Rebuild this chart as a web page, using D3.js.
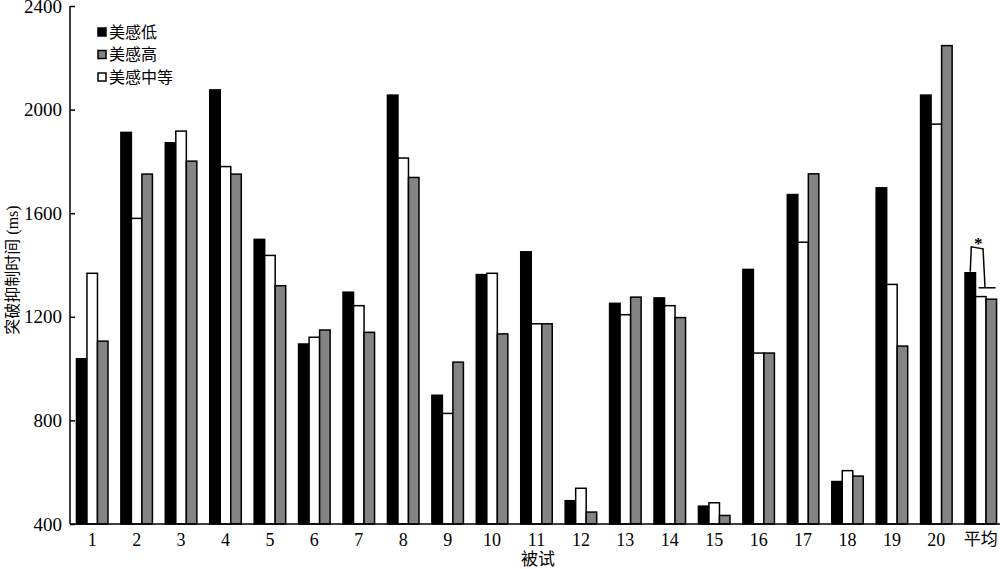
<!DOCTYPE html>
<meta charset="utf-8">
<style>
body { margin: 0; background: #fff; }
.axis text { font: 18px "Liberation Serif", serif; fill: #000; }
.axis path, .axis line { stroke: #000; stroke-width: 1.5; fill: none; }
.cjk { font-family: "Noto Sans CJK SC", sans-serif; }
</style>
<body>
<script src="https://d3js.org/d3.v7.min.js"></script>
<script>

// categories (被试) and series
var subjects = ["1","2","3","4","5","6","7","8","9","10","11","12","13","14","15","16","17","18","19","20","平均"];
var seriesNames = ["美感低", "美感中等", "美感高"];

var lowValues  = [1038, 1912, 1872, 2076, 1499, 1095, 1295, 2056,  897, 1363, 1451, 490, 1252, 1273, 469, 1383, 1672, 564, 1698, 2056, 1370];
var midValues  = [1368, 1580, 1917, 1780, 1437, 1121, 1243, 1813,  827, 1368, 1173, 538, 1208, 1243, 482, 1060, 1488, 606, 1325, 1944, 1278];
var highValues = [1106, 1751, 1801, 1751, 1320, 1149, 1140, 1738, 1025, 1134, 1173, 446, 1276, 1197, 433, 1060, 1752, 585, 1087, 2247, 1268];

var yTicks = [400, 800, 1200, 1600, 2000, 2400];
var legendOrder = ["美感低", "美感高", "美感中等"];
var sigTop = 1470, sigRight = 1312;

var colors = { "美感低": "#000", "美感中等": "#fff", "美感高": "#858385" };

var width = 1000, height = 569;
var svg = d3.select("body").append("svg")
    .attr("width", width)
    .attr("height", height);

var x = d3.scaleBand()
    .domain(subjects)
    .range([70, 1003])
    .paddingInner(0.29)
    .paddingOuter(0.145);

var xs = d3.scaleBand()
    .domain(seriesNames)
    .range([0, x.bandwidth()]);

var y = d3.scaleLinear()
    .domain([400, 2400])
    .range([524, 6]);

var data = subjects.map(function(s, i) {
  return { name: s, values: [
    { key: "美感低", v: lowValues[i] },
    { key: "美感中等", v: midValues[i] },
    { key: "美感高", v: highValues[i] }
  ]};
});

// bars
var groups = svg.selectAll(".grp")
    .data(data)
  .enter().append("g")
    .attr("class", "grp")
    .attr("transform", function(d) { return "translate(" + x(d.name) + ",0)"; });

groups.selectAll("rect")
    .data(function(d) { return d.values; })
  .enter().append("rect")
    .attr("x", function(d) { return xs(d.key); })
    .attr("y", function(d) { return y(d.v); })
    .attr("width", xs.bandwidth())
    .attr("height", function(d) { return y(400) - y(d.v); })
    .attr("fill", function(d) { return colors[d.key]; })
    .attr("stroke", "#000")
    .attr("stroke-width", 1.5);

// y axis (ticks point inward)
var yAxis = d3.axisRight(y).tickValues(yTicks).tickSize(5).tickFormat(d3.format("d"));
var yg = svg.append("g")
    .attr("class", "axis")
    .attr("transform", "translate(70,0)")
    .call(yAxis);
yg.select(".domain").remove();
yg.append("line").attr("x1", 0).attr("x2", 0).attr("y1", y(2400)).attr("y2", y(400));
yg.selectAll(".tick text").attr("text-anchor", "end").attr("x", -8).style("font-size", "19px");

// x axis
var xAxis = d3.axisBottom(x).tickSize(0).tickPadding(9);
var xg = svg.append("g")
    .attr("class", "axis")
    .attr("transform", "translate(0," + y(400) + ")")
    .call(xAxis);
xg.select(".domain").remove();
xg.append("line").attr("x1", 70).attr("x2", 1000).attr("y1", 0).attr("y2", 0);
xg.selectAll("text")
    .attr("dy", "0.71em")
    .style("font-family", function(d) { return d === "平均" ? "'Noto Sans CJK SC', sans-serif" : null; })
    .style("font-size", function(d) { return d === "平均" ? "17px" : null; });

// axis titles
svg.append("text")
    .attr("class", "cjk")
    .attr("x", 538)
    .attr("y", 565)
    .attr("text-anchor", "middle")
    .style("font-size", "17px")
    .text("被试");

svg.append("text")
    .attr("transform", "translate(18,270) rotate(-90)")
    .attr("text-anchor", "middle")
    .style("font-size", "16px")
    .html('<tspan style="font-family:\'Noto Sans CJK SC\'">突破抑制时间</tspan><tspan style="font-family:\'Liberation Serif\'"> (ms)</tspan>');

// legend
var legend = svg.selectAll(".leg")
    .data(legendOrder)
  .enter().append("g")
    .attr("class", "leg")
    .attr("transform", function(d, i) { return "translate(98," + (28 + i * 22.5) + ")"; });
legend.append("rect")
    .attr("width", 8).attr("height", 8)
    .attr("fill", function(d) { return colors[d]; })
    .attr("stroke", "#000").attr("stroke-width", 1.5);
legend.append("text")
    .attr("class", "cjk")
    .attr("x", 11).attr("y", 4).attr("dy", "0.35em")
    .style("font-size", "16px")
    .text(function(d) { return d; });

// significance bracket on 平均
var avg = "平均";
var xl = x(avg) + xs("美感低") + xs.bandwidth() / 2;
var xm = x(avg) + xs("美感高");
svg.append("path")
    .attr("d", "M" + xl + "," + (y(lowValues[20]) - 1) +
               "L" + (xl + 1) + "," + y(sigTop) +
               "L" + (xm - 3) + "," + (y(sigTop) + 2) +
               "L" + (xm - 1) + "," + y(sigRight))
    .attr("fill", "none").attr("stroke", "#000").attr("stroke-width", 1.5);
svg.append("line")
    .attr("x1", x(avg) + xs("美感中等") + 3).attr("x2", x(avg) + x.bandwidth() - 1)
    .attr("y1", y(sigRight)).attr("y2", y(sigRight))
    .attr("stroke", "#000").attr("stroke-width", 1.5);
svg.append("text")
    .attr("x", (xl + xm) / 2).attr("y", y(sigTop) + 2)
    .attr("text-anchor", "middle")
    .style("font", "bold 17px 'Liberation Serif', serif")
    .text("*");

</script>
</body>
